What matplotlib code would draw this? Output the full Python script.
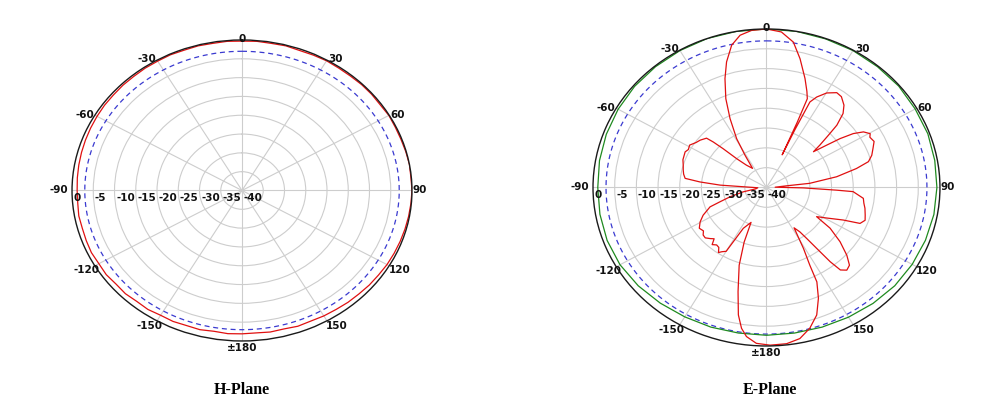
import numpy as np
import matplotlib
matplotlib.use("Agg")
import matplotlib.pyplot as plt

# polar grid
RING_LEVELS = [0, -5, -10, -15, -20, -25, -30, -35, -40]
SPOKE_ANGLES = list(range(0, 360, 30))
ANGLE_LABELS = ["0", "30", "60", "90", "120", "150", "\u00b1180",
                "-150", "-120", "-90", "-60", "-30"]
REF_LEVEL = -3  # blue dashed -3 dB circle

# H-plane measured trace (deg, dB)
H_ANGLES = list(range(0, 361, 5))
H_RED = [-0.3, -0.2, -0.3, -0.2, -0.4, -0.3, -0.2, -0.3, -0.3, -0.2,
         -0.2, -0.3, -0.1, -0.2, -0.2, -0.1, 0.0, -0.1, 0.0, -0.1,
         -0.2, -0.3, -0.4, -0.5, -0.6, -0.8, -0.9, -1.1, -1.2, -1.4,
         -1.5, -1.7, -1.6, -1.9, -1.8, -2.0, -1.9, -1.8, -2.0, -1.7,
         -1.8, -1.6, -1.7, -1.4, -1.5, -1.2, -1.3, -1.0, -1.1, -0.9,
         -1.0, -1.1, -1.0, -1.2, -1.2, -1.1, -1.0, -0.9, -0.8, -0.7,
         -0.6, -0.5, -0.5, -0.4, -0.4, -0.3, -0.3, -0.2, -0.3, -0.2,
         -0.3, -0.2, -0.3]

# E-plane measured trace (deg, dB)
E_ANGLES = [0, 5, 9.6, 13.4, 17.9, 21, 22.8, 23.3, 23.7,
            24.2, 24.9, 26.9, 30.2, 34.1, 37, 40.7, 43.4, 45.9, 47.3, 49, 50.2,
            52.4, 54, 55.8, 57.9, 60.4, 62, 64.9, 68, 71.5, 74.5, 77, 80.5, 84, 84.8, 88,
            90.7, 92.4, 93, 97, 100, 103, 107, 110, 112.8, 114.9, 119, 122.5,
            125, 128.9, 132.7, 135.7, 138.4, 140.7, 141.9, 143, 144.2, 145.5, 148,
            151, 153, 154, 156.8, 160.2, 164.3, 168.6, 173.3, 178.8, 183.4, 187,
            189.2, 191.4, 194, 197.8, 200.5, 202,
            207.4, 209.2, 210, 212.4, 214, 216, 218.4, 221, 223, 225.2, 228,
            230.6, 233, 236.4, 240.4, 244.4, 249.4, 251.4, 254.4, 258.4, 262, 268,
            272, 273.2, 275.2, 277, 280, 283, 286.3, 290, 295.6, 298, 301.1, 305,
            308, 312, 313.1, 314.4, 316.6, 320.6, 326.3,
            328.7, 330.8, 334.2, 337.3, 340.8, 343.8, 347.4, 351, 355.1, 360]
E_RED = [0.0, -0.6, -2.8, -6.6, -11.1, -14.0, -15.7, -22.0, -31.0,
         -24.0, -16.2, -14.4, -12.4, -11.1, -11.3, -12.6, -14.3, -17.4, -20.6, -23.7, -25.9,
         -22.5, -19.0, -15.8, -13.6, -12.5, -13.0, -12.6, -13.5, -14.4, -15.6, -18.7, -23.6, -30.0, -35.3, -38.0,
         -31.5, -23.8, -20.0, -17.5, -17.2, -16.7, -16.2, -15.8, -16.6, -20.5, -24.1, -26.3,
         -22.1, -18.2, -14.8, -12.6, -12.1, -13.1, -16.2, -20.7, -24.1, -26.4, -28.0,
         -22.4, -18.0, -13.5, -9.6, -5.8, -3.1, -1.1, -0.3, -0.2, -0.6, -2.1,
         -4.0, -7.2, -12.9, -19.4, -25.3, -30.5,
         -28.4, -24.3, -21.4, -20.8, -20.2, -21.3, -21.5, -20.9, -22.3, -21.7, -21.0,
         -21.1, -21.8, -21.4, -22.4, -23.8, -26.1, -28.7, -31.3, -34.5, -37.5, -38.0,
         -34.6, -29.3, -24.6, -21.1, -20.6, -20.3, -20.0, -19.5, -19.2, -19.6, -19.3, -20.2,
         -20.6, -21.4, -23.2, -26.0, -30.0, -32.7, -34.2,
         -30.5, -25.9, -20.7, -15.7, -10.9, -7.0, -3.2, -1.1, -0.2, 0.0]

E_GREEN_ANGLES = list(range(0, 361, 10))
E_GREEN = [0.0, 0.0, -0.1, -0.1, -0.2, -0.2, -0.4, -0.4, -0.6, -0.7,
           -0.8, -1.0, -1.2, -1.4, -1.8, -2.2, -2.5, -2.7, -2.7, -2.7,
           -2.5, -2.3, -1.9, -1.4, -1.0, -0.9, -1.0, -1.1, -0.9, -0.7,
           -0.5, -0.3, -0.2, -0.1, 0.0, 0.0, 0.0]

# angle label offsets from the outer ring, in pixels (dx, dy up)
LABEL_OFFSETS = [(0, 1), (9, 1.5), (8, 0), (8, 0), (10, -4.5), (10, -5),
                 (0, -7), (-8, -5), (-8, -4.5), (-13, 0), (-10, 0), (-10, 1.5)]

PX = 0.72  # points per pixel at 100 dpi


def make_polar(fig, rect):
    ax = fig.add_axes(rect, projection="polar")
    ax.set_aspect("auto")
    ax.set_theta_zero_location("N")
    ax.set_theta_direction(-1)
    ax.set_rlim(-40, 0)
    ax.set_thetagrids(SPOKE_ANGLES, labels=[])
    ax.set_rgrids(RING_LEVELS[1:-1], labels=[])
    ax.grid(True, color="#cdcdcd", lw=0.8)
    ax.tick_params(length=0, pad=0)
    ax.spines["polar"].set_color("#1a1a1a")
    ax.spines["polar"].set_linewidth(1.0)

    # -3 dB reference circle
    circ = np.linspace(0, 2 * np.pi, 361)
    ax.plot(circ, np.full_like(circ, REF_LEVEL), color="#3a3ad0",
            lw=0.9, dashes=(4, 3))

    for lvl in RING_LEVELS:
        ax.annotate(str(lvl), xy=(np.deg2rad(270), lvl),
                    xytext=(1.5 * PX, -3 * PX), textcoords="offset points",
                    ha="left", va="top", fontsize=7.5, fontweight="bold",
                    color="#111111", annotation_clip=False)

    for ang, lab, (dx, dy) in zip(SPOKE_ANGLES, ANGLE_LABELS, LABEL_OFFSETS):
        ax.annotate(lab, xy=(np.deg2rad(ang), 0),
                    xytext=(dx * PX, dy * PX), textcoords="offset points",
                    ha="center", va="center", fontsize=7.5, fontweight="bold",
                    color="#111111", annotation_clip=False)
    return ax


fig = plt.figure(figsize=(9.99, 4.17), dpi=100)
fig.patch.set_facecolor("white")

ax_h = make_polar(fig, [0.0721, 0.1823, 0.3403, 0.7218])
ax_h.plot(np.deg2rad(H_ANGLES), H_RED, color="#e01010", lw=0.9)

ax_e = make_polar(fig, [0.5936, 0.1703, 0.3473, 0.7602])
ax_e.plot(np.deg2rad(E_GREEN_ANGLES), E_GREEN, color="#1f8a1f", lw=0.9)
ax_e.plot(np.deg2rad(E_ANGLES), E_RED, color="#e01010", lw=0.9)

fig.text(0.2422, 0.0647, "H-Plane", ha="center", va="center",
         fontsize=11.5, fontweight="bold", family="Liberation Serif")
fig.text(0.7708, 0.0647, "E-Plane", ha="center", va="center",
         fontsize=11.5, fontweight="bold", family="Liberation Serif")

fig.savefig("out.png", dpi=100)
